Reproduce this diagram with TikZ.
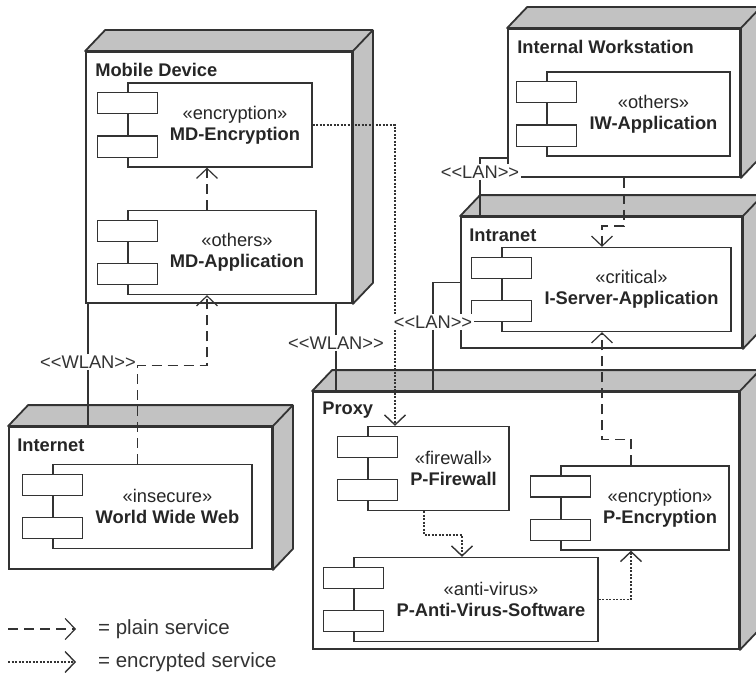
\documentclass[tikz,border=0pt]{standalone}
\usepackage{fontspec}
\setmainfont{Liberation Sans}
\usetikzlibrary{arrows.meta}
\definecolor{linegray}{HTML}{333333}
\definecolor{sidegray}{HTML}{C2C2C2}

\begin{document}
\begin{tikzpicture}[
    x=1pt, y=-1pt,
    font=\fontsize{18.3}{21}\selectfont,
    device/.style={draw=linegray,line width=1.8pt,fill=white,inner sep=0pt},
    side/.style={draw=linegray,line width=1.8pt,fill=sidegray,line join=round},
    title/.style={anchor=west,inner sep=0pt,font=\fontsize{18.3}{21}\selectfont\bfseries,text=black!85},
    comp/.style={draw=linegray,line width=1.3pt,fill=white,inner sep=0pt,minimum height=84pt},
    port/.style={draw=linegray,line width=1.3pt,fill=white,minimum width=60pt,minimum height=21pt,inner sep=0pt},
    ctext/.style={align=center,inner sep=0pt,text=black!85},
    lbl/.style={fill=white,inner sep=1.5pt,text=black!80},
    legend/.style={anchor=west,inner sep=0pt,font=\fontsize{20.5}{22}\selectfont,text=black!80},
    link/.style={draw=linegray,line width=1.2pt},
    plain/.style={link,dash pattern=on 10pt off 6pt,-{Straight Barb[length=10pt,width=21pt]}},
    secure/.style={link,line width=1.4pt,dash pattern=on 2pt off 1.5pt,-{Straight Barb[length=10pt,width=21pt]}}
]
\useasboundingbox (0,0) rectangle (756,677);

% nodes
\node[device,minimum width=266pt,minimum height=251pt] (md) at (219,177.5) {};
\node[device,minimum width=232pt,minimum height=148pt] (iw) at (624,103) {};
\node[device,minimum width=281pt,minimum height=131pt] (intra) at (601.5,282.5) {};
\node[device,minimum width=426pt,minimum height=257pt] (proxy) at (526,520.5) {};
\node[device,minimum width=263pt,minimum height=142pt] (inet) at (140.5,498) {};

\foreach \n in {md,iw,intra,proxy,inet}{
  \filldraw[side] (\n.north west) -- ++(20,-21) -| ([shift={(20,-21)}]\n.south east)
    -- (\n.south east) -- (\n.north east) -- cycle;
  \draw[side] (\n.north east) -- ++(20,-21);
}

\node[title] (md-t) at ([shift={(10,19)}]md.north west) {Mobile Device};
\node[title] (iw-t) at ([shift={(10,19)}]iw.north west) {Internal Workstation};
\node[title] (intra-t) at ([shift={(9,19)}]intra.north west) {Intranet};
\node[title] (proxy-t) at ([shift={(10,19)}]proxy.north west) {Proxy};
\node[title] (inet-t) at ([shift={(9,19)}]inet.north west) {Internet};

% components
\node[comp,minimum width=184pt] (mde) at (220,125) {};
\node[comp,minimum width=188pt] (mda) at (222,252.5) {};
\node[comp,minimum width=183pt] (iwa) at (638.5,114) {};
\node[comp,minimum width=229pt] (isa) at (616.5,289.5) {};
\node[comp,minimum width=141pt] (pfw) at (438.5,468.5) {};
\node[comp,minimum width=168pt] (pen) at (645,508) {};
\node[comp,minimum width=244pt] (pav) at (476,599.5) {};
\node[comp,minimum width=199pt] (www) at (152.5,506.5) {};

\foreach \c in {mde,mda,iwa,isa,pfw,pen,pav,www}{
  \node[port] (\c-a) at ([yshift=-21]\c.north west) {};
  \node[port] (\c-b) at ([yshift=21]\c.south west) {};
}

\node[ctext] (mde-l) at ([xshift=15]mde.center) {«encryption»\\\textbf{MD-Encryption}};
\node[ctext] (mda-l) at ([xshift=15]mda.center) {«others»\\\textbf{MD-Application}};
\node[ctext] (iwa-l) at ([xshift=15]iwa.center) {«others»\\\textbf{IW-Application}};
\node[ctext] (isa-l) at ([xshift=15]isa.center) {«critical»\\\textbf{I-Server-Application}};
\node[ctext] (pfw-l) at ([xshift=15]pfw.center) {«firewall»\\\textbf{P-Firewall}};
\node[ctext] (pen-l) at ([xshift=15]pen.center) {«encryption»\\\textbf{P-Encryption}};
\node[ctext] (pav-l) at ([xshift=15]pav.center) {«anti-virus»\\\textbf{P-Anti-Virus-Software}};
\node[ctext] (www-l) at ([xshift=15]www.center) {«insecure»\\\textbf{World Wide Web}};

% services
\draw[plain] ([xshift=-15]www.north) -- ++(0,-98) -| ([xshift=-15]mda.south);
\draw[plain] ([xshift=-15]mda.north) -- ([xshift=-15]mda.north |- mde.south);
\draw[plain] (iw.south) -- ++(0,48) -| ([xshift=-14.5]isa.north);
\draw[plain] ([xshift=-14]pen.north) -- ++(0,-26) -| ([xshift=-14.5]isa.south);
\draw[secure] (mde.east) -| ([xshift=-43.5]pfw.north);
\draw[secure] ([xshift=-14.5]pfw.south) -- ++(0,24) -| ([xshift=-14]pav.north);
\draw[secure] (pav.east) -| ([xshift=-14]pen.south);

% network links
\node[lbl] (wlan1) at (88,362) {<\kern0pt<WLAN>\kern0pt>};
\node[lbl] (wlan2) at (336,343) {<\kern0pt<WLAN>\kern0pt>};
\node[lbl] (lan1) at (480,172) {<\kern0pt<LAN>\kern0pt>};
\node[lbl] (lan2) at (433,322) {<\kern0pt<LAN>\kern0pt>};

\draw[link] (wlan1.north) -- (wlan1.north |- md.south);
\draw[link] (wlan1.south) -- (wlan1.south |- inet.north);
\draw[link] (wlan2.north) -- (wlan2.north |- md.south);
\draw[link] (wlan2.south) -- (wlan2.south |- proxy.north);
\draw[link] ([yshift=20]iw.south west) -| (lan1.north);
\draw[link] (lan1.south) -- (lan1.south |- intra.north);
\draw[link] (intra.west) -| (lan2.north);
\draw[link] (lan2.south) -- (lan2.south |- proxy.north);

% legend
\coordinate (lg-a) at (8,629);
\coordinate (lg-b) at (8,662);
\node[legend] (lg-plain) at (98,629) {= plain service};
\node[legend] (lg-secure) at (98,662) {= encrypted service};
\draw[plain] (lg-a) -- ([xshift=-22]lg-plain.west);
\draw[secure] (lg-b) -- ([xshift=-22]lg-secure.west);

\end{tikzpicture}
\end{document}
